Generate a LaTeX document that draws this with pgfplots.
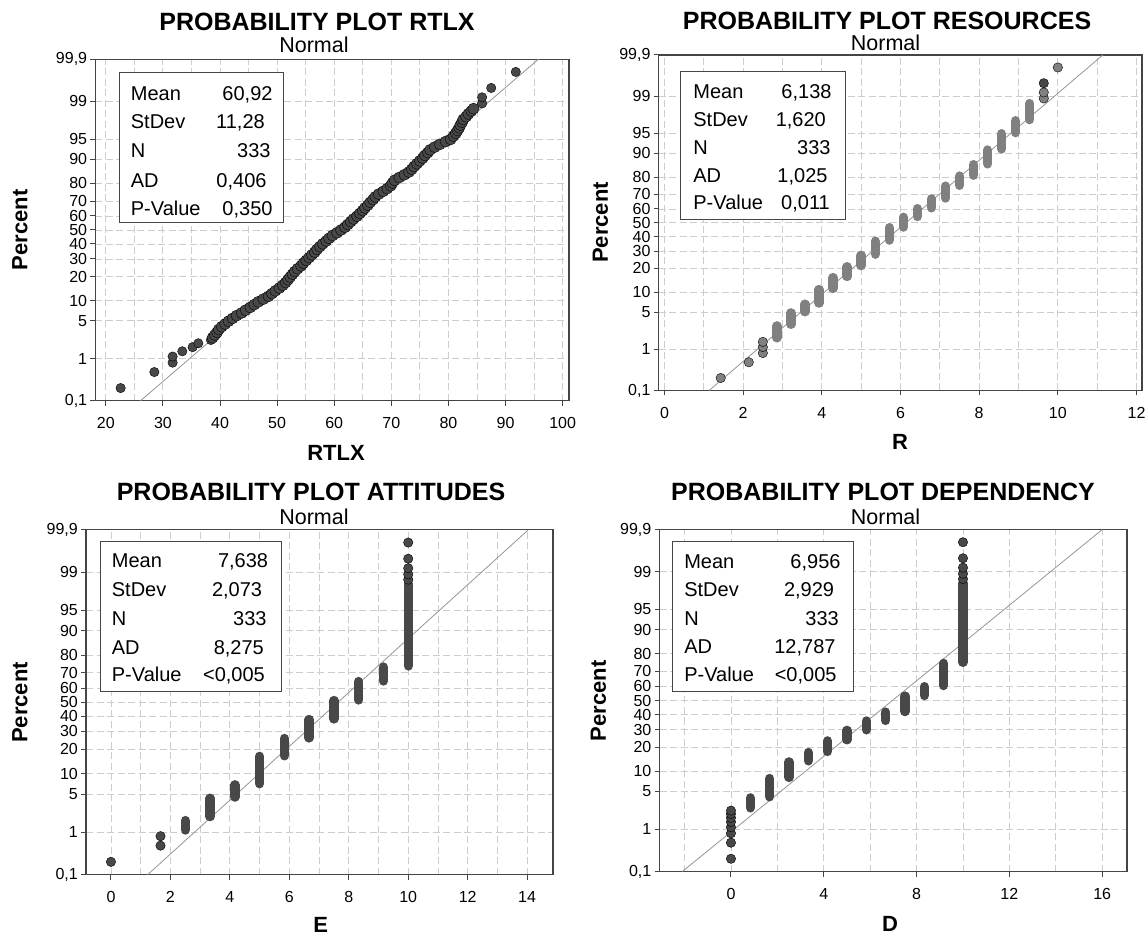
\documentclass[border=0pt]{standalone}
\usepackage{fontspec}
\setmainfont{Liberation Sans}
\usepackage{pgfplots}
\pgfplotsset{compat=1.18}
\newcommand\fs[1]{\fontsize{#1pt}{#1pt}\selectfont}
\definecolor{dot}{HTML}{484848}
\definecolor{dotlt}{HTML}{808080}
\definecolor{gridc}{HTML}{CDCDCD}
\definecolor{fitc}{HTML}{959595}
\definecolor{framec}{HTML}{454545}
\pgfplotsset{
  pp/.style={
    scale only axis, anchor=south west,
    ymin=-3.0902, ymax=3.0902,
    ytick={-3.0902,-2.3263,-1.6449,-1.2816,-0.8416,-0.5244,-0.2533,0,0.2533,0.5244,0.8416,1.2816,1.6449,2.3263,3.0902},
    yticklabels={{0,1},1,5,10,20,30,40,50,60,70,80,90,95,99,{99,9}},
    grid=both,
    major grid style={gridc, line width=0.9pt, dash pattern=on 7pt off 3.5pt},
    minor grid style={gridc, line width=0.9pt, dash pattern=on 7pt off 3.5pt},
    axis line style={framec, line width=1.1pt},
    tick align=outside, tick pos=left,
    major tick length=5pt, minor tick length=0pt,
    tick style={framec, line width=1pt},
    ticklabel style={font=\fs{16}},
    /pgf/number format/assume math mode=true,
    xticklabel style={inner sep=0pt, yshift=-11.7pt},
    yticklabel style={inner sep=0pt, xshift=-3pt},
  },
  stk/.style={line width=9.4pt, line cap=round, dot},
  stklt/.style={line width=9.4pt, line cap=round, dotlt},
  pts/.style={only marks, mark=*, mark size=4.7pt, mark options={draw=none, fill=dot}},
  ptsbig/.style={only marks, mark=*, mark size=5.6pt, mark options={draw=none, fill=dot}},
  ptslt/.style={only marks, mark=*, mark size=4.7pt, mark options={draw=none, fill=dotlt}},
  fit/.style={fitc, line width=0.8pt},
}
\begin{document}
\begin{tikzpicture}
\useasboundingbox (0pt,0pt) rectangle (1146pt,935pt);

% ---------------- Panel 1: RTLX ----------------
\begin{axis}[pp, at={(95.3pt,534.2pt)}, width=473.7pt, height=341.6pt,
  xmin=18.16, xmax=101.12, xtick={20,30,...,100}, minor xtick={25,35,...,95}]
\addplot[fit] coordinates {(26.063,-3.0902) (95.777,3.0902)};
\addplot[pts] coordinates {
(22.6,-2.86) (28.5,-2.57) (31.7,-2.40) (31.7,-2.29) (33.4,-2.195) (35.2,-2.12) (36.2,-2.05) (38.4,-1.99)
(85.9,2.29) (85.9,2.40) (87.5,2.57) (91.8,2.86)};
\addplot[ptsbig] coordinates {
(38.7,-1.95) (39.1,-1.90) (39.5,-1.85) (39.8,-1.80) (40.3,-1.75) (40.9,-1.70) (41.5,-1.65) (42.2,-1.60)
(42.9,-1.55) (43.8,-1.50) (44.5,-1.45) (45.3,-1.40) (46.0,-1.35) (46.7,-1.30) (47.6,-1.25) (48.5,-1.20)
(49.1,-1.15) (49.7,-1.10) (50.4,-1.05) (51.0,-1.00) (51.5,-0.95) (51.9,-0.90) (52.3,-0.85) (52.7,-0.80)
(53.1,-0.75) (53.6,-0.70) (54.2,-0.65) (54.6,-0.60) (55.1,-0.55) (55.6,-0.50) (56.1,-0.45) (56.6,-0.40)
(57.0,-0.35) (57.5,-0.30) (58.0,-0.25) (58.6,-0.20) (59.1,-0.15) (59.7,-0.10) (60.5,-0.05) (61.2,0.00)
(61.9,0.05) (62.4,0.10) (62.9,0.15) (63.4,0.20) (64.0,0.25) (64.5,0.30) (65.0,0.35) (65.4,0.40)
(65.9,0.45) (66.3,0.50) (66.8,0.55) (67.2,0.60) (67.8,0.65) (68.6,0.70) (69.3,0.75) (69.9,0.80)
(70.2,0.85) (70.6,0.90) (71.4,0.95) (72.3,1.00) (73.1,1.05) (73.6,1.10) (74.0,1.15) (74.5,1.20)
(75.0,1.25) (75.5,1.30) (75.9,1.35) (76.4,1.40) (76.8,1.45) (77.6,1.50) (78.5,1.55) (79.5,1.60)
(80.4,1.64) (80.9,1.70) (81.3,1.75) (81.6,1.80) (81.9,1.85) (82.1,1.90) (82.4,1.95) (82.6,2.00)
(83.1,2.05) (83.5,2.10) (84.0,2.15) (84.4,2.195)};
\end{axis}

% ---------------- Panel 2: RESOURCES ----------------
\begin{axis}[pp, at={(658.6pt,544.5pt)}, width=483.4pt, height=335.5pt,
  xmin=-0.15, xmax=12.14, xtick={0,2,...,12}, minor xtick={1,3,...,11}]
\addplot[fit] coordinates {(1.132,-3.0902) (11.144,3.0902)};
\addplot[stklt] coordinates {(2.8571,-2.12) (2.8571,-1.90)};
\addplot[stklt] coordinates {(3.2143,-1.87) (3.2143,-1.66)};
\addplot[stklt] coordinates {(3.5714,-1.64) (3.5714,-1.50)};
\addplot[stklt] coordinates {(3.9286,-1.48) (3.9286,-1.23)};
\addplot[stklt] coordinates {(4.2857,-1.21) (4.2857,-1.01)};
\addplot[stklt] coordinates {(4.6429,-0.99) (4.6429,-0.81)};
\addplot[stklt] coordinates {(5.0000,-0.79) (5.0000,-0.60)};
\addplot[stklt] coordinates {(5.3571,-0.58) (5.3571,-0.34)};
\addplot[stklt] coordinates {(5.7143,-0.32) (5.7143,-0.09)};
\addplot[stklt] coordinates {(6.0714,-0.08) (6.0714,0.10)};
\addplot[stklt] coordinates {(6.4286,0.115) (6.4286,0.26)};
\addplot[stklt] coordinates {(6.7857,0.275) (6.7857,0.44)};
\addplot[stklt] coordinates {(7.1429,0.455) (7.1429,0.675)};
\addplot[stklt] coordinates {(7.5000,0.69) (7.5000,0.86)};
\addplot[stklt] coordinates {(7.8571,0.875) (7.8571,1.07)};
\addplot[stklt] coordinates {(8.2143,1.085) (8.2143,1.34)};
\addplot[stklt] coordinates {(8.5714,1.36) (8.5714,1.64)};
\addplot[stklt] coordinates {(8.9286,1.66) (8.9286,1.88)};
\addplot[stklt] coordinates {(9.2857,1.90) (9.2857,2.195)};
\addplot[ptslt] coordinates {(1.4286,-2.86) (2.1429,-2.57) (2.5,-2.40) (2.5,-2.29) (2.5,-2.195)
  (9.6429,2.29) (9.6429,2.40) (10.0,2.86)};
\addplot[pts] coordinates {(9.6429,2.57)};
\end{axis}

% ---------------- Panel 3: ATTITUDES ----------------
\begin{axis}[pp, at={(86pt,60.3pt)}, width=467pt, height=345pt,
  xmin=-0.84, xmax=14.87, xtick={0,2,...,14}, minor xtick={1,3,...,13}]
\addplot[fit] coordinates {(1.232,-3.0902) (14.044,3.0902)};
\addplot[stk] coordinates {(2.5,-2.29) (2.5,-2.12)};
\addplot[stk] coordinates {(3.3333,-2.05) (3.3333,-1.72)};
\addplot[stk] coordinates {(4.1667,-1.70) (4.1667,-1.48)};
\addplot[stk] coordinates {(5.0,-1.46) (5.0,-0.97)};
\addplot[stk] coordinates {(5.8333,-0.96) (5.8333,-0.65)};
\addplot[stk] coordinates {(6.6667,-0.64) (6.6667,-0.31)};
\addplot[stk] coordinates {(7.5,-0.30) (7.5,0.03)};
\addplot[stk] coordinates {(8.3333,0.04) (8.3333,0.37)};
\addplot[stk] coordinates {(9.1667,0.38) (9.1667,0.63)};
\addplot[stk] coordinates {(10,0.65) (10,2.12)};
\addplot[pts] coordinates {(0,-2.86) (1.6667,-2.57) (1.6667,-2.40)
  (10,2.195) (10,2.29) (10,2.40) (10,2.57) (10,2.86)};
\end{axis}

% ---------------- Panel 4: DEPENDENCY ----------------
\begin{axis}[pp, at={(659.5pt,63.5pt)}, width=467.5pt, height=342pt,
  xmin=-3.08, xmax=17.07, xtick={0,4,...,16}, minor xtick={-2,2,6,10,14}]
\addplot[fit] coordinates {(-2.095,-3.0902) (16.007,3.0902)};
\addplot[stk] coordinates {(0.8333,-1.94) (0.8333,-1.76)};
\addplot[stk] coordinates {(1.6667,-1.74) (1.6667,-1.41)};
\addplot[stk] coordinates {(2.5,-1.39) (2.5,-1.11)};
\addplot[stk] coordinates {(3.3333,-1.09) (3.3333,-0.94)};
\addplot[stk] coordinates {(4.1667,-0.92) (4.1667,-0.73)};
\addplot[stk] coordinates {(5.0,-0.71) (5.0,-0.54)};
\addplot[stk] coordinates {(5.8333,-0.53) (5.8333,-0.37)};
\addplot[stk] coordinates {(6.6667,-0.36) (6.6667,-0.21)};
\addplot[stk] coordinates {(7.5,-0.20) (7.5,0.08)};
\addplot[stk] coordinates {(8.3333,0.09) (8.3333,0.25)};
\addplot[stk] coordinates {(9.1667,0.27) (9.1667,0.67)};
\addplot[stk] coordinates {(10,0.69) (10,2.12)};
\addplot[pts] coordinates {(0,-2.86) (0,-2.57) (0,-2.40) (0,-2.29) (0,-2.195) (0,-2.12) (0,-2.05) (0,-1.99)
  (10,2.195) (10,2.29) (10,2.40) (10,2.57) (10,2.86)};
\end{axis}

% ---------------- Titles ----------------
\node[anchor=base, font=\fs{25}\bfseries] at (317pt,904.4pt) {PROBABILITY PLOT RTLX};
\node[anchor=base, font=\fs{21.5}] at (314pt,882.3pt) {Normal};
\node[anchor=base, font=\fs{25}\bfseries] at (887pt,905.9pt) {PROBABILITY PLOT RESOURCES};
\node[anchor=base, font=\fs{21.5}] at (885.5pt,884.8pt) {Normal};
\node[anchor=base, font=\fs{25}\bfseries] at (311pt,434.7pt) {PROBABILITY PLOT ATTITUDES};
\node[anchor=base, font=\fs{21.5}] at (314pt,410.3pt) {Normal};
\node[anchor=base, font=\fs{25}\bfseries] at (883pt,434.4pt) {PROBABILITY PLOT DEPENDENCY};
\node[anchor=base, font=\fs{21.5}] at (885.5pt,410.3pt) {Normal};

% ---------------- Axis labels ----------------
\node[rotate=90, font=\fs{22}\bfseries] at (20pt,705pt) {Percent};
\node[rotate=90, font=\fs{22}\bfseries] at (600.3pt,712.5pt) {Percent};
\node[rotate=90, font=\fs{22}\bfseries] at (20pt,232.5pt) {Percent};
\node[rotate=90, font=\fs{22}\bfseries] at (598.5pt,234pt) {Percent};
\node[anchor=base, font=\fs{22}\bfseries] at (336pt,474.1pt) {RTLX};
\node[anchor=base, font=\fs{22}\bfseries] at (900pt,485.1pt) {R};
\node[anchor=base, font=\fs{22}\bfseries] at (320.6pt,3pt) {E};
\node[anchor=base, font=\fs{22}\bfseries] at (890pt,3.5pt) {D};

% ---------------- Statistics boxes ----------------
\begin{scope}[x=1pt, y=1pt, every node/.style={font=\fs{20}, inner sep=0pt}]
\draw[framec, line width=1pt, fill=white] (119.3,862.3) rectangle (283.3,712.3);
\node[anchor=base west] at (130.7,834.5) {Mean};
\node[anchor=base west] at (130.7,806.1) {StDev};
\node[anchor=base west] at (130.7,777.1) {N};
\node[anchor=base west] at (130.7,747.8) {AD};
\node[anchor=base west] at (130.7,719.5) {P-Value};
\node[anchor=base east] at (272.7,834.5) {60,92};
\node[anchor=base east] at (265.0,806.1) {11,28};
\node[anchor=base east] at (270.7,777.1) {333};
\node[anchor=base east] at (266.7,747.8) {0,406};
\node[anchor=base east] at (272.7,719.5) {0,350};

\draw[framec, line width=1pt, fill=white] (680.8,863.3) rectangle (845.7,715.7);
\node[anchor=base west] at (693.2,836.8) {Mean};
\node[anchor=base west] at (693.2,808.5) {StDev};
\node[anchor=base west] at (693.2,780.1) {N};
\node[anchor=base west] at (693.2,752.8) {AD};
\node[anchor=base west] at (693.2,725.1) {P-Value};
\node[anchor=base east] at (831.7,836.8) {6,138};
\node[anchor=base east] at (826.0,808.5) {1,620};
\node[anchor=base east] at (830.7,780.1) {333};
\node[anchor=base east] at (827.7,752.8) {1,025};
\node[anchor=base east] at (830.0,725.1) {0,011};

\draw[framec, line width=1pt, fill=white] (100.7,393.7) rectangle (281,243.7);
\node[anchor=base west] at (111.7,367.5) {Mean};
\node[anchor=base west] at (111.7,338.1) {StDev};
\node[anchor=base west] at (111.7,309.1) {N};
\node[anchor=base west] at (111.7,280.8) {AD};
\node[anchor=base west] at (111.7,253.1) {P-Value};
\node[anchor=base east] at (268.3,367.5) {7,638};
\node[anchor=base east] at (262.3,338.1) {2,073};
\node[anchor=base east] at (266.7,309.1) {333};
\node[anchor=base east] at (264.0,280.8) {8,275};
\node[anchor=base east] at (265.0,253.1) {<0,005};

\draw[framec, line width=1pt, fill=white] (672.1,393) rectangle (853.3,243);
\node[anchor=base west] at (684.1,366.5) {Mean};
\node[anchor=base west] at (684.1,338.1) {StDev};
\node[anchor=base west] at (684.1,309.1) {N};
\node[anchor=base west] at (684.1,281.5) {AD};
\node[anchor=base west] at (684.1,253.1) {P-Value};
\node[anchor=base east] at (840.7,366.5) {6,956};
\node[anchor=base east] at (834.3,338.1) {2,929};
\node[anchor=base east] at (839.0,309.1) {333};
\node[anchor=base east] at (835.7,281.5) {12,787};
\node[anchor=base east] at (836.7,253.1) {<0,005};
\end{scope}
\end{tikzpicture}
\end{document}
